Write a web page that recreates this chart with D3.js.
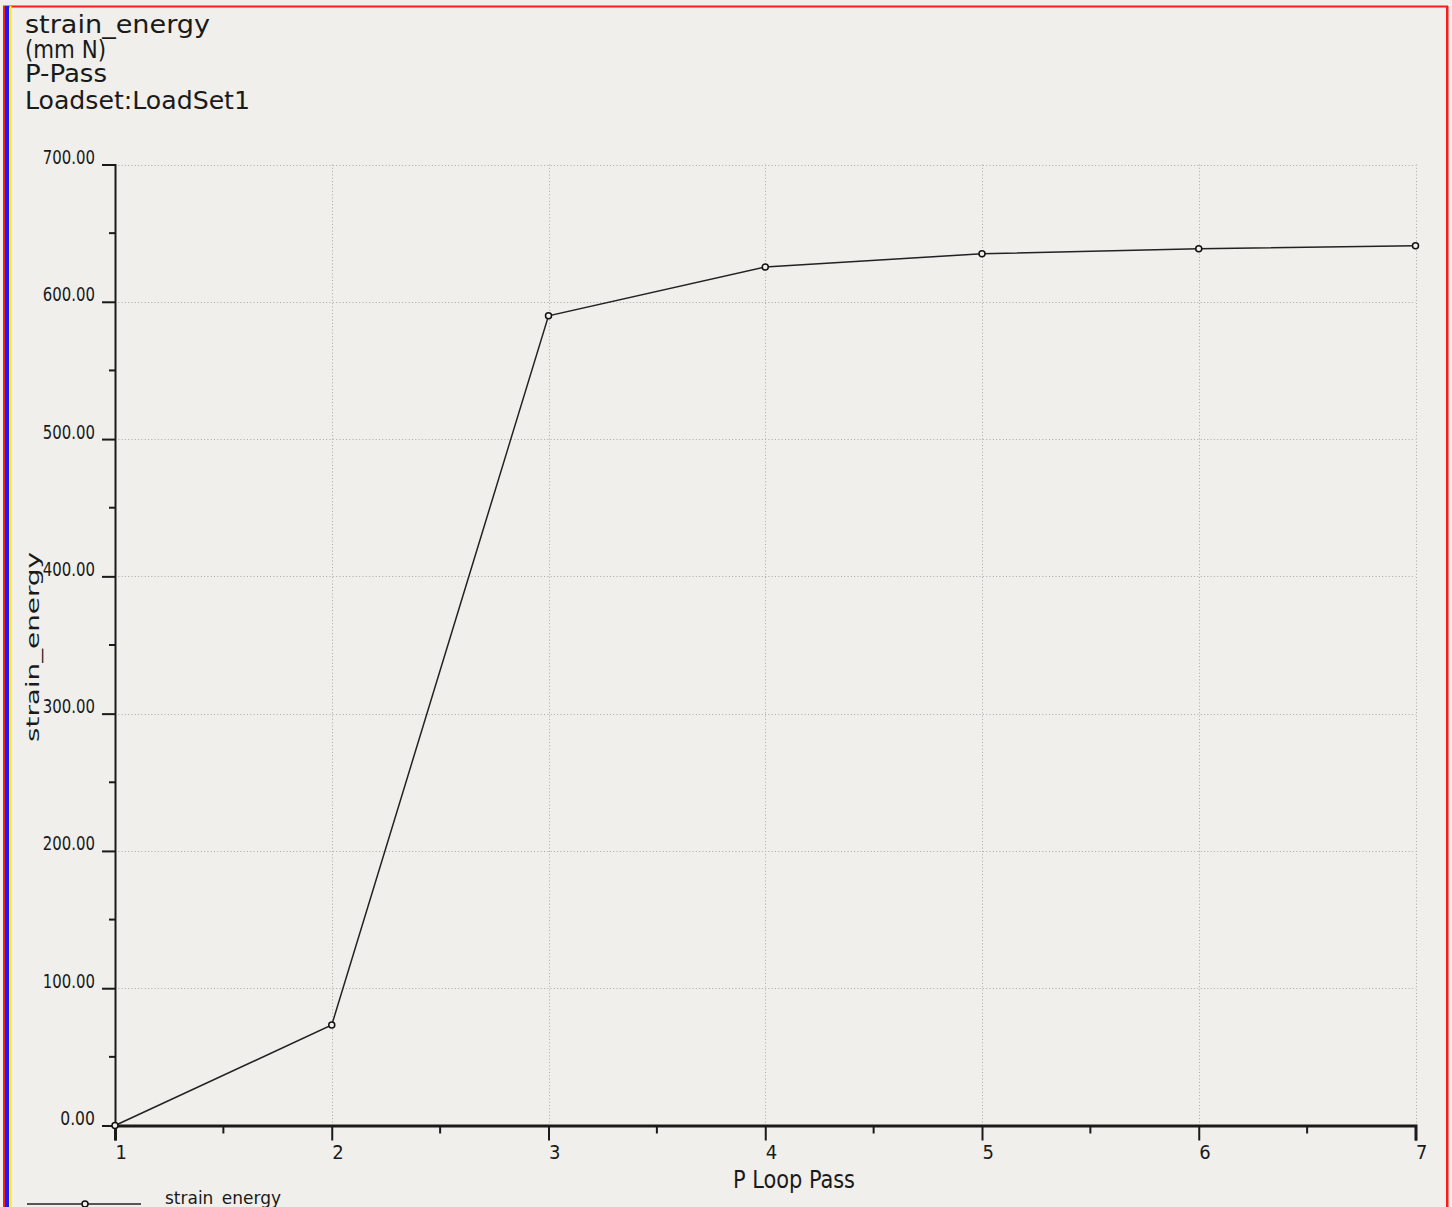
<!DOCTYPE html>
<html>
<head>
<meta charset="utf-8">
<script src="https://cdn.jsdelivr.net/npm/d3@7"></script>
<style>
  html, body { margin: 0; padding: 0; background: #f0efeb; }
  svg { display: block; }
  text { font-family: "DejaVu Sans ExtraLight", "Liberation Sans Narrow", "DejaVu Sans Condensed", "DejaVu Sans", sans-serif; fill: #1a1a1a; }
</style>
</head>
<body>
<script>
// Convergence of strain energy over the P-loop passes
const passes = [1, 2, 3, 4, 5, 6, 7];
const strainEnergy = [0, 73.2, 589.8, 625.3, 635.0, 638.6, 640.8];
const yTicks = [0, 100, 200, 300, 400, 500, 600, 700];
const yMinorTicks = [50, 150, 250, 350, 450, 550, 650];
const xMinorTicks = [1.5, 2.5, 3.5, 4.5, 5.5, 6.5];
const headerLines = ["strain_energy", "(mm N)", "P-Pass", "Loadset:LoadSet1"];
const headerWidths = [185, 81, 82, 225];
const xTitle = "P Loop Pass";
const yTitle = "strain_energy";
const legendLabel = "strain_energy";

const W = 1452, H = 1207;
const svg = d3.select("body").append("svg").attr("width", W).attr("height", H);

svg.append("rect").attr("width", W).attr("height", H).attr("fill", "#f0efeb");

// window frame
svg.append("rect").attr("x", 3).attr("y", 5.5).attr("width", 1445).attr("height", 2).attr("fill", "#ff1a1a");
svg.append("rect").attr("x", 1446).attr("y", 6).attr("width", 2.5).attr("height", H).attr("fill", "#ff1a1a");
svg.append("rect").attr("x", 3).attr("y", 6).attr("width", 2).attr("height", H).attr("fill", "#ff1a1a");
svg.append("rect").attr("x", 5).attr("y", 6).attr("width", 4).attr("height", H).attr("fill", "#1a1aff");
svg.append("rect").attr("x", 9.5).attr("y", 6).attr("width", 2).attr("height", H).attr("fill", "#ffee00");

// header block: tall, narrow lettering
const headerBase = [33, 58, 82, 109];
headerLines.forEach((t, i) => {
  svg.append("g")
    .attr("transform", `translate(25,${headerBase[i]}) scale(1,1.35)`)
    .append("text")
    .attr("x", 0).attr("y", 0)
    .attr("font-size", 18.5)
    .attr("fill", "#222")
    .attr("textLength", headerWidths[i]).attr("lengthAdjust", "spacingAndGlyphs")
    .text(t);
});

const x = d3.scaleLinear().domain([1, 7]).range([115, 1415.5]);
const y = d3.scaleLinear().domain([0, 700]).range([1125.5, 164.5]);

// dotted grid
const grid = svg.append("g").attr("stroke", "#a8a8a8").attr("stroke-width", 1).attr("stroke-dasharray", "1,2.3");
grid.selectAll("line.h").data(yTicks.filter(d => d > 0)).join("line")
  .attr("x1", x(1)).attr("x2", x(7))
  .attr("y1", d => Math.round(y(d)) + 0.5).attr("y2", d => Math.round(y(d)) + 0.5);
grid.selectAll("line.v").data(passes.filter(d => d > 1)).join("line")
  .attr("x1", d => Math.round(x(d)) + 0.5).attr("x2", d => Math.round(x(d)) + 0.5)
  .attr("y1", y(700)).attr("y2", y(0));

// y axis
const yAxis = d3.axisLeft(y).tickValues(yTicks).tickFormat(d3.format(".2f")).tickSize(13).tickPadding(7);
const gy = svg.append("g").attr("transform", `translate(${x(1)},0)`).call(yAxis);
gy.select(".domain").attr("stroke", "#1a1a1a").attr("stroke-width", 2);
gy.selectAll(".tick line").attr("stroke", "#1a1a1a").attr("stroke-width", 2);
gy.selectAll(".tick text")
  .attr("font-size", 19.5).attr("dy", 0).attr("y", -1)
  .attr("fill", "#333")
  .each(function(d) {
    const s = d3.format(".2f")(d);
    d3.select(this).attr("textLength", s.length * 8.7).attr("lengthAdjust", "spacingAndGlyphs");
  });
gy.selectAll("line.minor").data(yMinorTicks).join("line")
  .attr("x1", -6).attr("x2", 0)
  .attr("y1", d => y(d)).attr("y2", d => y(d))
  .attr("stroke", "#1a1a1a").attr("stroke-width", 2);

// x axis
const xAxis = d3.axisBottom(x).tickValues(passes).tickFormat(d3.format("d")).tickSize(15).tickPadding(4);
const gx = svg.append("g").attr("transform", `translate(0,${y(0)})`).call(xAxis);
gx.select(".domain").attr("stroke", "#1a1a1a").attr("stroke-width", 3);
gx.selectAll(".tick line").attr("stroke", "#1a1a1a").attr("stroke-width", 2);
gx.selectAll(".tick text")
  .attr("font-size", 20).attr("text-anchor", "start").attr("x", 0)
  .attr("fill", "#333");
gx.selectAll("line.minor").data(xMinorTicks).join("line")
  .attr("x1", d => x(d)).attr("x2", d => x(d))
  .attr("y1", 0).attr("y2", 8)
  .attr("stroke", "#1a1a1a").attr("stroke-width", 2);

// axis titles
svg.append("g").attr("transform", "translate(733,1188) scale(1,1.2)")
  .append("text")
  .attr("font-size", 20)
  .attr("fill", "#222")
  .attr("textLength", 122).attr("lengthAdjust", "spacingAndGlyphs")
  .text(xTitle);
svg.append("text")
  .attr("transform", "translate(39,742) rotate(-90)")
  .attr("font-size", 18)
  .attr("fill", "#333")
  .attr("textLength", 190).attr("lengthAdjust", "spacingAndGlyphs")
  .text(yTitle);

// series line and markers
const pts = passes.map((p, i) => [p, strainEnergy[i]]);
svg.append("path")
  .datum(pts)
  .attr("fill", "none").attr("stroke", "#222").attr("stroke-width", 1.5)
  .attr("d", d3.line().x(d => x(d[0])).y(d => y(d[1])));
svg.selectAll("circle.pt").data(pts).join("circle")
  .attr("cx", d => x(d[0])).attr("cy", d => y(d[1])).attr("r", 3)
  .attr("fill", "#f0efeb").attr("stroke", "#111").attr("stroke-width", 1.5);

// legend
svg.append("line").attr("x1", 27).attr("x2", 141).attr("y1", 1204).attr("y2", 1204)
  .attr("stroke", "#222").attr("stroke-width", 1.5);
svg.append("circle").attr("cx", 85).attr("cy", 1204).attr("r", 3)
  .attr("fill", "#f0efeb").attr("stroke", "#111").attr("stroke-width", 1.5);
svg.append("text")
  .attr("x", 165).attr("y", 1204)
  .attr("font-size", 17)
  .attr("fill", "#333")
  .attr("textLength", 116).attr("lengthAdjust", "spacingAndGlyphs")
  .text(legendLabel);
</script>
</body>
</html>
